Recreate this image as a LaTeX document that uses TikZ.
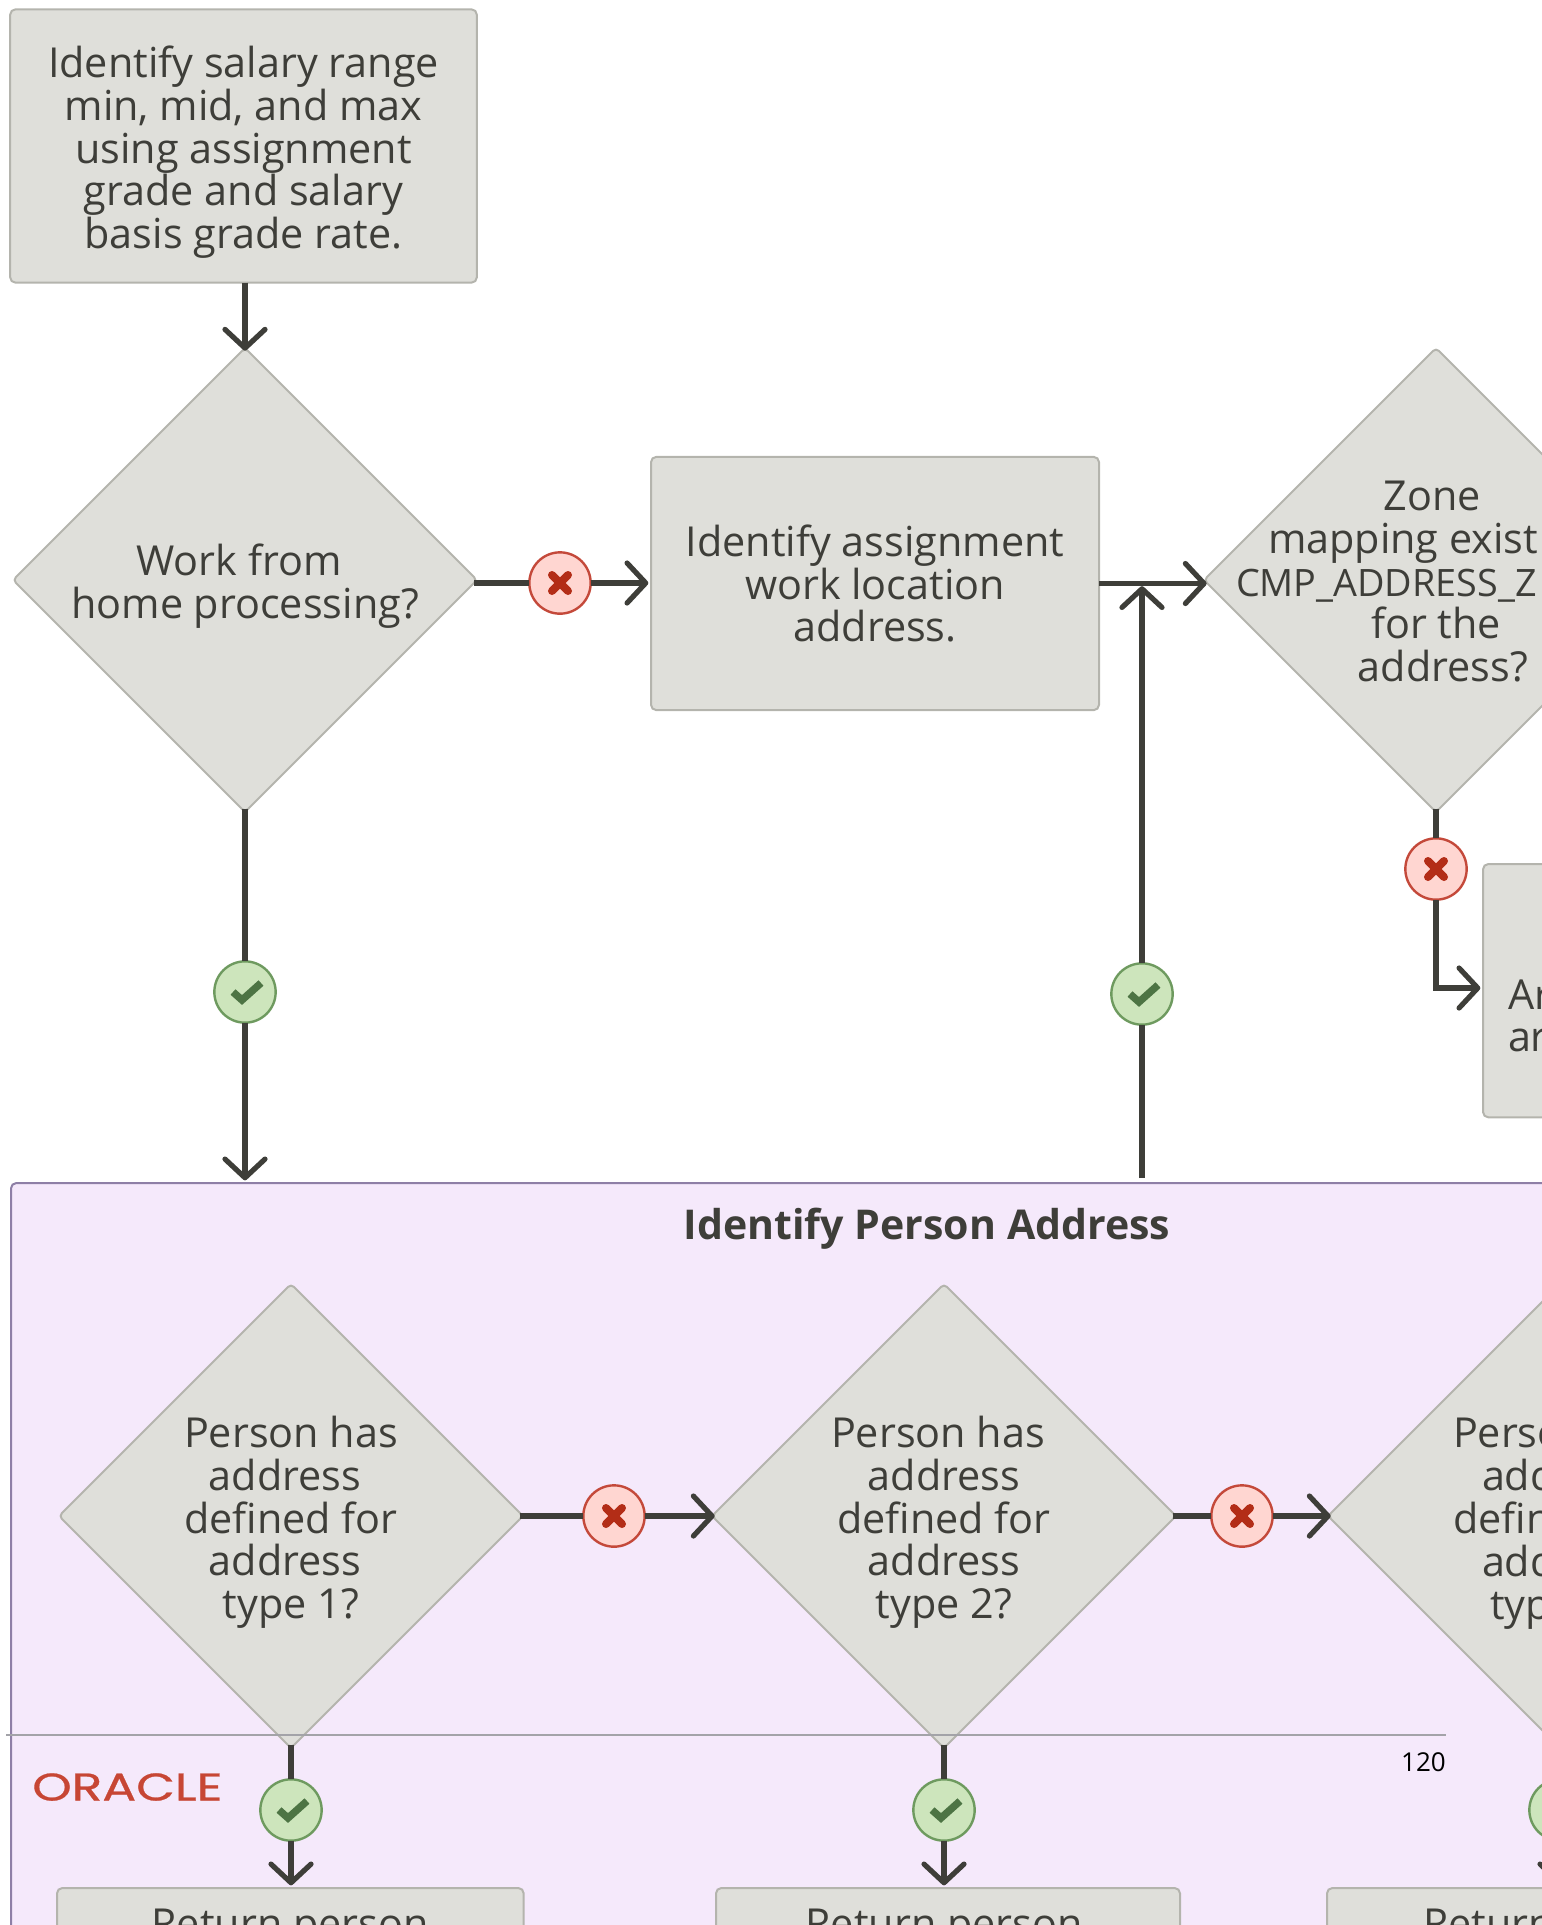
\documentclass[tikz,border=0pt]{standalone}
\usepackage{fontspec}
\usepackage{amsmath}
\setmainfont{Open Sans}
\newfontfamily\logofont[FakeBold=0.6]{Poppins}
\usetikzlibrary{shapes.geometric,arrows.meta}

\definecolor{boxfill}{HTML}{DFDFDA}
\definecolor{boxline}{HTML}{B4B4AD}
\definecolor{inkdark}{HTML}{3E3E39}
\definecolor{regionfill}{HTML}{F5E9FB}
\definecolor{regionline}{HTML}{8E7FA6}
\definecolor{nofill}{HTML}{FFD6D1}
\definecolor{noline}{HTML}{C4493A}
\definecolor{nomark}{HTML}{B32D17}
\definecolor{yesfill}{HTML}{CDE5BC}
\definecolor{yesline}{HTML}{6E9A5F}
\definecolor{yesmark}{HTML}{4D7444}
\definecolor{footline}{HTML}{A3A3A8}
\definecolor{logored}{HTML}{C74634}

\newcommand{\trailgap}{\hspace*{9pt}\null}
\newcommand{\topgap}{\rule{0pt}{33pt}}

\tikzset{
  flowtext/.style={text=inkdark,font=\fontsize{31pt}{32.2pt}\selectfont,align=center,inner sep=0pt,outer sep=0pt},
  stepbox/.style={flowtext,rectangle,draw=boxline,fill=boxfill,line width=1.5pt,rounded corners=4pt},
  choice/.style={flowtext,shape=diamond,aspect=1,draw=boxline,fill=boxfill,line width=1.5pt,rounded corners=3pt,minimum width=348pt,minimum height=348pt},
  flowline/.style={draw=inkdark,line width=3.9pt},
  choiceline/.style={flowline,shorten <=-2pt},
  flowarrow/.style={flowline,-{Straight Barb[length=14pt,width=30pt,round]},shorten >=2pt},
  choicearrow/.style={flowarrow,shorten >=-2pt},
  nobadge/.style={circle,draw=noline,fill=nofill,line width=1.8pt,minimum size=46pt,inner sep=0pt,outer sep=0pt,
    path picture={\draw[nomark,line width=6pt,line cap=round]
      ([shift={(-8,-8)}]path picture bounding box.center) -- ([shift={(8,8)}]path picture bounding box.center)
      ([shift={(8,-8)}]path picture bounding box.center) -- ([shift={(-8,8)}]path picture bounding box.center);}},
  yesbadge/.style={circle,draw=yesline,fill=yesfill,line width=1.8pt,minimum size=46pt,inner sep=0pt,outer sep=0pt,
    path picture={\draw[yesmark,line width=5.5pt]
      ([shift={(-12,0)}]path picture bounding box.center) -- ([shift={(-3,-8)}]path picture bounding box.center)
      -- ([shift={(16,9)}]path picture bounding box.center);}},
}

\begin{document}
\begin{tikzpicture}[x=0.75pt,y=0.75pt,yscale=-1,xscale=1]
\useasboundingbox (0,0) rectangle (1542,1925);
\clip (0,0) rectangle (1542,1925);

%Region
\node (region) [rectangle,draw=regionline,fill=regionfill,line width=1.5pt,rounded corners=4pt,minimum width=1300pt,minimum height=700pt,anchor=north west,outer sep=0pt] at (11,1183) {};
\node (regiontitle) [text=inkdark,font=\fontsize{30.8pt}{32pt}\selectfont\bfseries] at (927,1229) {Identify Person Address};

%Upper steps
\node (salarybox) [stepbox,minimum width=350pt,minimum height=205pt] at (243.5,146) {\topgap Identify salary range\\min, mid, and max\\using assignment\\grade and salary\\basis grade rate.};
\node (homechoice) [choice] at (245,580) {\topgap Work from\trailgap\\home processing?};
\node (workbox) [stepbox,minimum width=336pt,minimum height=190pt] at (875,583.5) {Identify assignment\\work location\\address.};
\node (zonechoice) [choice] at (1436,580) {};
\node (zoneline1) [flowtext,anchor=base] at (1432,510) {Zone};
\node (zoneline2) [flowtext,anchor=base west] at (1268,553) {mapping exist};
\node (zoneline3) [flowtext,anchor=base west,font=\fontsize{28.3pt}{32.2pt}\selectfont] at (1236,596) {CMP\_ADDRESS\_Z};
\node (zoneline4) [flowtext,anchor=base] at (1436,638) {for the};
\node (zoneline5) [flowtext,anchor=base] at (1443,681) {address?};
\node (arbox) [stepbox,minimum width=200pt,minimum height=190pt,anchor=north west] at (1483,864) {};
\node (arline1) [flowtext,anchor=base west] at (1508,1009) {Ar};
\node (arline2) [flowtext,anchor=base west] at (1508,1051) {ar};

%Address type choices
\node (typeonechoice) [choice] at (291,1516) {\topgap Person has\\address\trailgap\\defined for\\address\trailgap\\type 1?};
\node (typetwochoice) [choice] at (944,1516) {\topgap Person has\trailgap\\address\\defined for\\address\\type 2?};
\node (typethreechoice) [choice] at (1560,1516) {};
\node (typeline1) [flowtext,anchor=base west] at (1453,1447) {Perso};
\node (typeline2) [flowtext,anchor=base west] at (1482,1490) {add};
\node (typeline3) [flowtext,anchor=base west] at (1453,1533) {defin};
\node (typeline4) [flowtext,anchor=base west] at (1482,1576) {add};
\node (typeline5) [flowtext,anchor=base west] at (1490,1619) {typ};

%Lower steps
\node (returnbox1) [stepbox,minimum width=350pt,minimum height=190pt,anchor=north west] at (57,1888) {};
\node (returnbox2) [stepbox,minimum width=348pt,minimum height=190pt,anchor=north west] at (716,1888) {};
\node (returnbox3) [stepbox,minimum width=350pt,minimum height=190pt,anchor=north west] at (1327,1888) {};
\node (returnline1) [flowtext,anchor=base] at (290,1938) {Return person};
\node (returnline2) [flowtext,anchor=base] at (944,1938) {Return person};
\node (returnline3) [flowtext,anchor=base west] at (1423,1938) {Return};

%Badges
\node (homeno) [nobadge] at (560,583) {};
\node (homeyes) [yesbadge] at (245,992) {};
\node (zoneyes) [yesbadge] at (1142,994) {};
\node (zoneno) [nobadge] at (1436,869) {};
\node (typeoneno) [nobadge] at (614,1516) {};
\node (typetwono) [nobadge] at (1242,1516) {};
\node (typeoneyes) [yesbadge] at (291,1810) {};
\node (typetwoyes) [yesbadge] at (944,1810) {};
\node (typethreeyes) [yesbadge] at (1560,1810) {};

%Free ends
\coordinate (regionexit) at (1142,1178);
\coordinate (zoneelbow) at (1436,988);

%Straight Lines
\draw[choicearrow] (salarybox.south -| homechoice) -- (homechoice.north);
\draw[choiceline] (homeno -| homechoice.east) -- (homeno);
\draw[flowarrow] (homeno) -- (homeno -| workbox.west);
\draw[choiceline] (homechoice.south) -- (homeyes);
\draw[flowarrow] (homeyes) -- (homeyes |- region.north);
\draw[choicearrow] (workbox.east) -- (workbox.east -| zonechoice.west);
\draw[flowline] (regionexit) -- (zoneyes);
\draw[flowarrow] (zoneyes) -- (zoneyes |- workbox.east);
\draw[choiceline] (zonechoice.south) -- (zoneno);
\draw[flowarrow] (zoneno) -- (zoneelbow) -- (zoneelbow -| arbox.west);

\draw[choiceline] (typeonechoice.east) -- (typeoneno);
\draw[choicearrow] (typeoneno) -- (typetwochoice.west);
\draw[choiceline] (typetwochoice.east) -- (typetwono);
\draw[choicearrow] (typetwono) -- (typethreechoice.west);
\draw[choiceline] (typeonechoice.south) -- (typeoneyes);
\draw[flowarrow] (typeoneyes) -- (typeoneyes |- returnbox1.north);
\draw[choiceline] (typetwochoice.south) -- (typetwoyes);
\draw[flowarrow] (typetwoyes) -- (typetwoyes |- returnbox2.north);
\draw[choiceline] (typethreechoice.south) -- (typethreeyes);
\draw[flowarrow] (typethreeyes) -- (typethreeyes |- returnbox3.north);

%Footer
\coordinate (footstart) at (6,1735);
\coordinate (footend) at (1446,1735);
\draw[footline,line width=1.5pt] (footstart) -- (footend);
\node (pagenumber) [text=black,font=\fontsize{19.5pt}{22pt}\selectfont,anchor=east,inner sep=0pt] at (1446,1762) {120};
\node (logo) [text=logored,font=\fontsize{29pt}{32pt}\selectfont\logofont,anchor=west,inner sep=0pt] at (32,1787) {\scalebox{1.3}[1]{ORACLE}};
\end{tikzpicture}
\end{document}
